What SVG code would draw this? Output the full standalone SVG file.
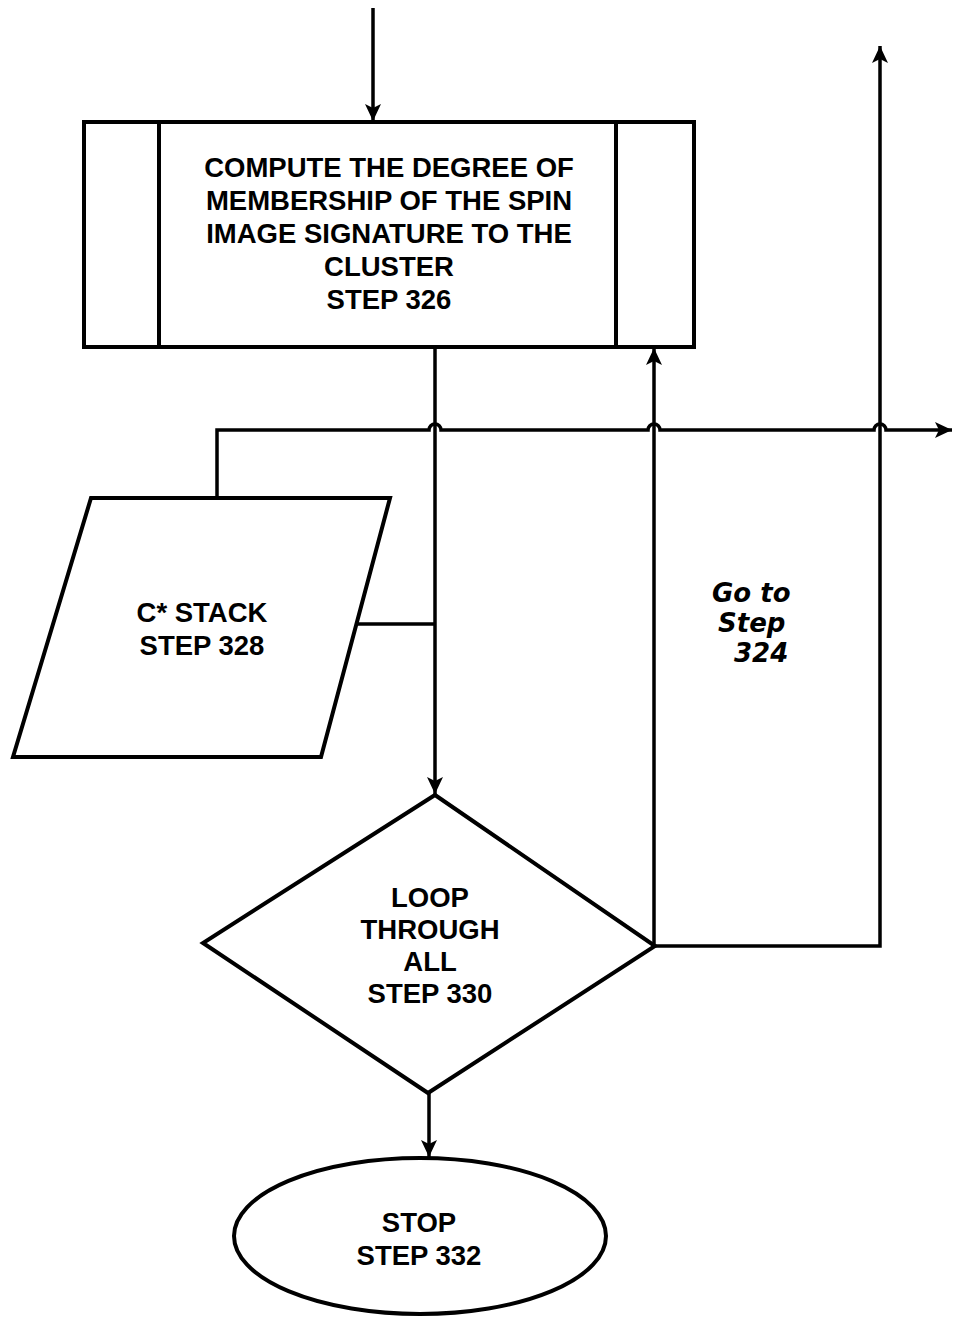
<svg xmlns="http://www.w3.org/2000/svg" width="954" height="1318" viewBox="0 0 954 1318">
<defs>
<marker id="arr" markerUnits="userSpaceOnUse" markerWidth="18" markerHeight="16" refX="17" refY="8" orient="auto">
<path d="M0,0 L17,8 L0,16 L4,8 z" fill="#000"/>
</marker>
</defs>
<style>
.shape{fill:#fff;stroke:#000;stroke-width:4;stroke-linejoin:miter}
.conn{fill:none;stroke:#000;stroke-width:3.5}
.lbl{font-family:"Liberation Sans",Arial,sans-serif;font-weight:bold;font-size:27.5px;fill:#000;text-anchor:middle}
.hand{font-family:"DejaVu Sans","Liberation Sans",sans-serif;font-style:italic;font-weight:bold;font-size:26px;fill:#000}
</style>
<rect width="954" height="1318" fill="#fff"/>
<g id="connectors">
<line class="conn" x1="373" y1="8" x2="373" y2="121" marker-end="url(#arr)"/>
<line class="conn" x1="435" y1="347" x2="435" y2="794" marker-end="url(#arr)"/>
<path class="conn" d="M217,497 V430 H429 a6,6 0 0 1 12,0 H648 a6,6 0 0 1 12,0 H874 a6,6 0 0 1 12,0 H952" marker-end="url(#arr)"/>
<line class="conn" x1="355" y1="624" x2="435" y2="624"/>
<line class="conn" x1="654" y1="946" x2="654" y2="348" marker-end="url(#arr)"/>
<path class="conn" d="M654,946 H880 V46" marker-end="url(#arr)"/>
<line class="conn" x1="429" y1="1093" x2="429" y2="1157" marker-end="url(#arr)"/>
</g>
<g id="step326">
<rect class="shape" x="84" y="122" width="610" height="225"/>
<line class="conn" x1="159" y1="122" x2="159" y2="347" style="stroke-width:4"/>
<line class="conn" x1="616" y1="122" x2="616" y2="347" style="stroke-width:4"/>
<text class="lbl" x="389" y="177">COMPUTE THE DEGREE OF</text>
<text class="lbl" x="389" y="210">MEMBERSHIP OF THE SPIN</text>
<text class="lbl" x="389" y="243">IMAGE SIGNATURE TO THE</text>
<text class="lbl" x="389" y="276">CLUSTER</text>
<text class="lbl" x="389" y="309">STEP 326</text>
</g>
<g id="step328">
<polygon class="shape" points="91,498 390,498 321,757 13,757"/>
<text class="lbl" x="202" y="622">C* STACK</text>
<text class="lbl" x="202" y="655">STEP 328</text>
</g>
<g id="step330">
<polygon class="shape" points="435,795 655,946 428,1093 203,943"/>
<text class="lbl" x="430" y="907">LOOP</text>
<text class="lbl" x="430" y="939">THROUGH</text>
<text class="lbl" x="430" y="971">ALL</text>
<text class="lbl" x="430" y="1003">STEP 330</text>
</g>
<g id="step332">
<ellipse class="shape" cx="420" cy="1236" rx="186" ry="78"/>
<text class="lbl" x="419" y="1232">STOP</text>
<text class="lbl" x="419" y="1265">STEP 332</text>
</g>
<g id="goto">
<text class="hand" x="712" y="602">Go to</text>
<text class="hand" x="718" y="632">Step</text>
<text class="hand" x="734" y="662">324</text>
</g>
</svg>
